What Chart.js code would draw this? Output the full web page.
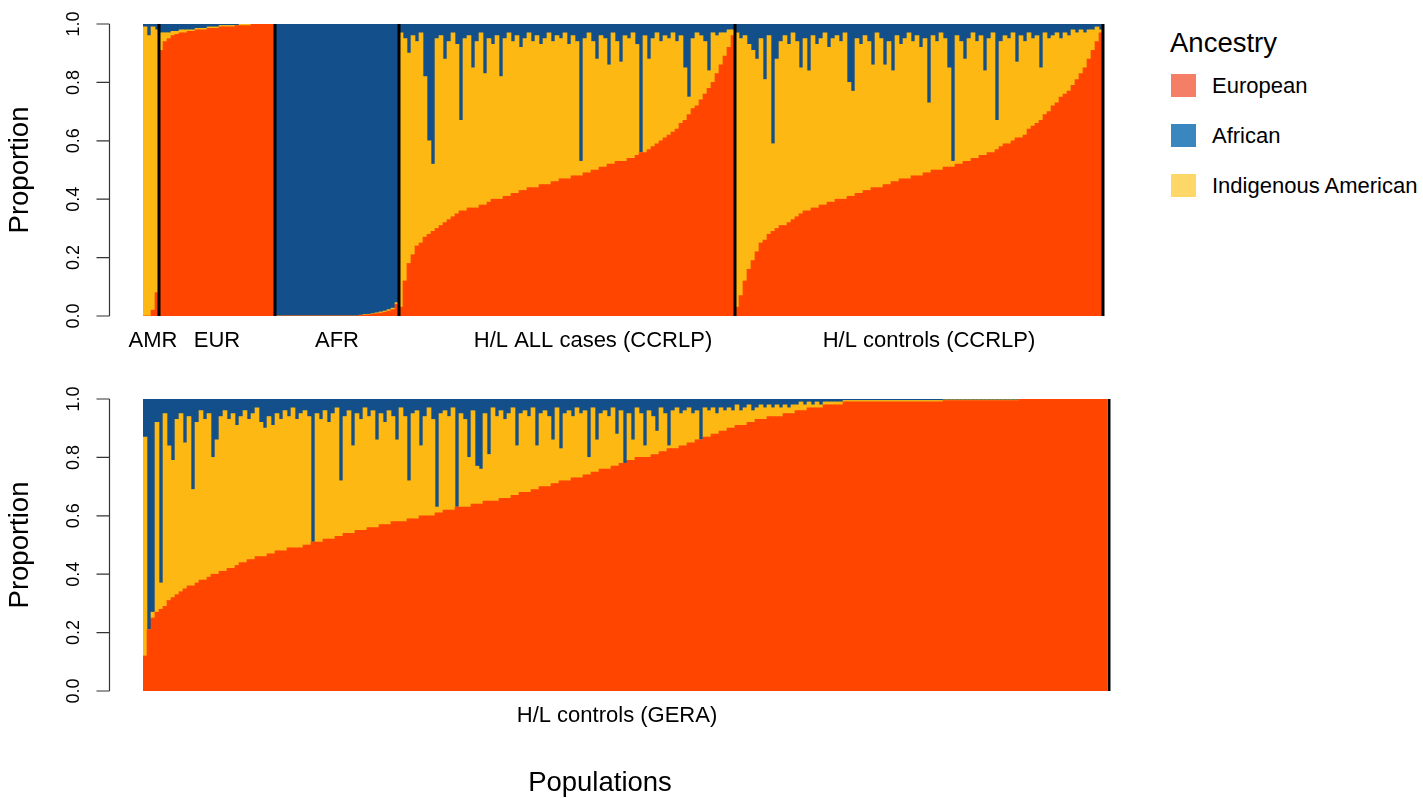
<!DOCTYPE html>
<html>
<head>
<meta charset="utf-8">
<script src="https://cdn.jsdelivr.net/npm/chart.js@4.4.1/dist/chart.umd.min.js"></script>
<style>
  body { margin: 0; background: #fff; width: 1423px; height: 798px; position: relative; overflow: hidden;
         font-family: "Liberation Sans", Arial, Helvetica, sans-serif; color: #000; }
  .panel { position: absolute; left: 0; }
  #topPanel { top: 0; }
  #bottomPanel { top: 375px; }
  #xTitle { position: absolute; left: 450px; width: 300px; top: 768px; text-align: center;
            font-size: 27.5px; line-height: 27.5px; }
  #legend .title { position: absolute; left: 1170px; top: 29px; font-size: 27.5px; line-height: 27.5px; }
  #legend .swatch { position: absolute; left: 1171px; width: 25px; height: 23px; }
  #legend .item { position: absolute; left: 1212px; font-size: 22px; line-height: 22px; white-space: nowrap; }
</style>
</head>
<body>
<div class="panel" id="topPanel"><canvas id="topChart" width="1130" height="360"></canvas></div>
<div class="panel" id="bottomPanel"><canvas id="bottomChart" width="1130" height="423"></canvas></div>
<div id="xTitle">Populations</div>
<div id="legend"><div class="title">Ancestry</div></div>

<script>
// ancestry components, stacked bottom to top: European, Indigenous American, African
const seriesNames = ['European', 'Indigenous American', 'African'];
const barColors = ['#FF4500', '#FDB813', '#134F8A'];
const legendOrder = ['European', 'African', 'Indigenous American'];
const legendColors = { 'European': '#F47F66', 'African': '#3A87BF', 'Indigenous American': '#FDD868' };

const topGroups = ['AMR', 'EUR', 'AFR', 'H/L ALL cases (CCRLP)', 'H/L controls (CCRLP)'];
const bottomGroups = ['H/L controls (GERA)'];
const yTicks = [0, 0.2, 0.4, 0.6, 0.8, 1.0];

// reference panel: AMR
const amrEuropean   = [0, 0, 0.02, 0.08];
const amrIndigenous = [0.99, 0.96, 0.97, 0.90];
const amrAfrican    = [0.01, 0.04, 0.01, 0.02];

// reference panel: EUR
const eurEuropean   = [0.91,0.94,0.95,0.96,0.965,0.97,0.97,0.975,0.975,0.98,0.98,0.98,0.985,0.985,0.985,0.99,0.99,0.99,0.99,0.995,0.995,0.995,0.995,1,1,1,1,1,1];
const eurIndigenous = [0.06,0.03,0.02,0.015,0.01,0.01,0.01,0.005,0.005,0.005,0.005,0.005,0.005,0.005,0.005,0.005,0.005,0.005,0.005,0,0.005,0.005,0.005,0,0,0,0,0,0];
const eurAfrican    = [0.03,0.03,0.03,0.025,0.025,0.02,0.02,0.02,0.02,0.015,0.015,0.015,0.01,0.01,0.01,0.005,0.005,0.005,0.005,0.005,0,0,0,0,0,0,0,0,0];

// reference panel: AFR
const afrEuropean   = [0,0,0,0,0,0,0,0,0,0,0,0,0,0,0,0,0,0,0,0,0, 0.002,0.003,0.004,0.006,0.008,0.01,0.013,0.017,0.022,0.04];
const afrIndigenous = [0,0,0,0,0,0,0,0,0,0,0,0,0,0,0,0,0,0,0,0,0, 0.001,0.002,0.002,0.002,0.003,0.004,0.004,0.005,0.005,0.006];
const afrAfrican    = [1,1,1,1,1,1,1,1,1,1,1,1,1,1,1,1,1,1,1,1,1, 0.997,0.995,0.994,0.992,0.989,0.986,0.983,0.978,0.973,0.954];

// H/L ALL cases (CCRLP)
const casesEuropean = [0.03,0.12,0.18,0.21,0.24,0.25,0.27,0.28,0.29,0.30, 0.31,0.32,0.33,0.34,0.35,0.36,0.36,0.37,0.37,0.37,
  0.38,0.38,0.39,0.40,0.40,0.40,0.41,0.41,0.42,0.42, 0.43,0.43,0.44,0.44,0.44,0.45,0.45,0.45,0.46,0.46,
  0.47,0.47,0.47,0.48,0.48,0.48,0.49,0.49,0.50,0.50, 0.51,0.51,0.52,0.52,0.53,0.53,0.53,0.54,0.54,0.55,
  0.56,0.56,0.57,0.58,0.59,0.60,0.61,0.62,0.63,0.64, 0.66,0.67,0.69,0.71,0.72,0.74,0.76,0.78,0.80,0.83,
  0.86,0.89,0.92,0.96];
const casesIndigenous = [0.94,0.83,0.72,0.75,0.70,0.72,0.55,0.32,0.23,0.65, 0.65,0.56,0.61,0.63,0.58,0.31,0.59,0.59,0.48,0.57,
  0.59,0.45,0.56,0.53,0.56,0.42,0.54,0.56,0.52,0.54, 0.49,0.52,0.53,0.50,0.52,0.48,0.50,0.52,0.48,0.50,
  0.48,0.50,0.46,0.48,0.46,0.05,0.46,0.48,0.44,0.38, 0.45,0.44,0.34,0.45,0.41,0.34,0.43,0.41,0.43,0.38,
  0.00,0.40,0.31,0.37,0.38,0.34,0.35,0.33,0.34,0.30, 0.30,0.18,0.06,0.24,0.25,0.22,0.18,0.06,0.17,0.13,
  0.11,0.08,0.06,0.02];
const casesAfrican = [0.03,0.05,0.10,0.04,0.06,0.03,0.18,0.40,0.48,0.05, 0.04,0.12,0.06,0.03,0.07,0.33,0.05,0.04,0.15,0.06,
  0.03,0.17,0.05,0.07,0.04,0.18,0.05,0.03,0.06,0.04, 0.08,0.05,0.03,0.06,0.04,0.07,0.05,0.03,0.06,0.04,
  0.05,0.03,0.07,0.04,0.06,0.47,0.05,0.03,0.06,0.12, 0.04,0.05,0.14,0.03,0.06,0.13,0.04,0.05,0.03,0.07,
  0.44,0.04,0.12,0.05,0.03,0.06,0.04,0.05,0.03,0.06, 0.04,0.15,0.25,0.05,0.03,0.04,0.06,0.16,0.03,0.04,
  0.03,0.03,0.02,0.02];

// H/L controls (CCRLP)
const controlsEuropean = [0.03,0.07,0.12,0.16,0.19,0.22,0.25,0.26,0.28,0.29, 0.30,0.31,0.31,0.32,0.33,0.34,0.35,0.36,0.36,0.37,
  0.37,0.38,0.38,0.39,0.39,0.40,0.40,0.40,0.41,0.41, 0.42,0.42,0.43,0.43,0.44,0.44,0.44,0.45,0.45,0.46,
  0.46,0.47,0.47,0.47,0.48,0.48,0.48,0.49,0.49,0.50, 0.50,0.50,0.51,0.51,0.51,0.52,0.52,0.53,0.53,0.54,
  0.54,0.55,0.55,0.56,0.56,0.57,0.58,0.59,0.59,0.60, 0.61,0.61,0.62,0.64,0.65,0.66,0.67,0.69,0.70,0.72,
  0.73,0.75,0.76,0.77,0.79,0.81,0.83,0.85,0.88,0.91, 0.94,0.97];
const controlsIndigenous = [0.94,0.88,0.84,0.77,0.72,0.66,0.70,0.55,0.68,0.30, 0.58,0.63,0.65,0.61,0.64,0.60,0.50,0.59,0.48,0.59,
  0.56,0.57,0.59,0.53,0.56,0.56,0.54,0.57,0.39,0.36, 0.53,0.51,0.53,0.51,0.42,0.53,0.51,0.41,0.49,0.38,
  0.50,0.46,0.48,0.50,0.46,0.48,0.44,0.46,0.24,0.46, 0.44,0.47,0.44,0.34,0.02,0.44,0.42,0.35,0.42,0.43,
  0.40,0.41,0.29,0.39,0.41,0.10,0.36,0.37,0.36,0.37, 0.26,0.35,0.32,0.33,0.30,0.30,0.18,0.28,0.25,0.24,
  0.24,0.20,0.21,0.19,0.19,0.16,0.15,0.12,0.10,0.07, 0.05,0.01];
const controlsAfrican = [0.03,0.05,0.04,0.07,0.09,0.12,0.05,0.19,0.04,0.41, 0.12,0.06,0.04,0.07,0.03,0.06,0.15,0.05,0.16,0.04,
  0.07,0.05,0.03,0.08,0.05,0.04,0.06,0.03,0.20,0.23, 0.05,0.07,0.04,0.06,0.14,0.03,0.05,0.14,0.06,0.16,
  0.04,0.07,0.05,0.03,0.06,0.04,0.08,0.05,0.27,0.04, 0.06,0.03,0.05,0.15,0.47,0.04,0.06,0.12,0.05,0.03,
  0.06,0.04,0.16,0.05,0.03,0.33,0.06,0.04,0.05,0.03, 0.13,0.04,0.06,0.03,0.05,0.04,0.15,0.03,0.05,0.04,
  0.03,0.05,0.03,0.04,0.02,0.03,0.02,0.03,0.02,0.02, 0.01,0.02];

// H/L controls (GERA)
const geraEuropean = [0.12,0.21,0.25,0.27,0.28,0.29,0.31,0.32,0.33,0.34, 0.35,0.36,0.36,0.37,0.38,0.38,0.39,0.40,0.40,0.41,
  0.41,0.42,0.42,0.43,0.44,0.44,0.45,0.45,0.46,0.46, 0.46,0.47,0.47,0.48,0.48,0.48,0.49,0.49,0.49,0.49,
  0.50,0.50,0.51,0.51,0.51,0.52,0.52,0.52,0.53,0.53, 0.54,0.54,0.54,0.55,0.55,0.55,0.56,0.56,0.56,0.57,
  0.57,0.57,0.58,0.58,0.58,0.58,0.59,0.59,0.59,0.60, 0.60,0.60,0.60,0.61,0.61,0.62,0.62,0.62,0.63,0.63,
  0.63,0.63,0.64,0.64,0.64,0.65,0.65,0.65,0.65,0.66, 0.66,0.66,0.67,0.67,0.68,0.68,0.68,0.69,0.69,0.70,
  0.70,0.70,0.71,0.71,0.72,0.72,0.72,0.73,0.73,0.73, 0.74,0.74,0.75,0.75,0.76,0.76,0.76,0.77,0.77,0.78,
  0.78,0.79,0.79,0.80,0.80,0.80,0.80,0.81,0.81,0.82, 0.82,0.83,0.83,0.83,0.84,0.84,0.85,0.85,0.86,0.86,
  0.87,0.87,0.88,0.88,0.89,0.89,0.90,0.90,0.91,0.91, 0.91,0.92,0.92,0.93,0.93,0.93,0.94,0.94,0.94,0.94,
  0.95,0.95,0.95,0.96,0.96,0.96,0.97,0.97,0.97,0.97, 0.98,0.98,0.98,0.98,0.98,0.99,0.99,0.99,0.99,0.99,
  0.99,0.99,0.99,0.99,0.99,0.99,0.99,0.99,0.99,0.99, 0.99,0.99,0.99,0.99,0.99,0.99,0.99,0.99,0.99,0.99,
  0.995,0.995,0.995,0.995,0.995,0.995,0.995,0.995,0.995,0.995, 0.995,0.995,0.995,0.995,0.995,0.995,0.995,0.995,0.995,
  1,1,1,1,1,1,1,1,1,1,1,1,1,1,1,1,1,1,1,1,1,1];
const geraIndigenous = [0.75,0.00,0.02,0.65,0.09,0.66,0.53,0.47,0.60,0.61, 0.50,0.58,0.33,0.55,0.58,0.55,0.56,0.40,0.46,0.53,
  0.55,0.51,0.53,0.48,0.50,0.52,0.48,0.50,0.51,0.46, 0.44,0.47,0.44,0.47,0.45,0.48,0.45,0.48,0.44,0.46,
  0.46,0.44,0.00,0.44,0.42,0.44,0.40,0.43,0.44,0.19, 0.40,0.42,0.30,0.40,0.38,0.42,0.38,0.40,0.30,0.38,
  0.35,0.39,0.36,0.28,0.39,0.36,0.13,0.36,0.37,0.24, 0.34,0.37,0.33,0.02,0.34,0.34,0.32,0.35,0.00,0.32,
  0.30,0.17,0.32,0.13,0.12,0.30,0.16,0.32,0.29,0.30, 0.27,0.29,0.30,0.17,0.27,0.28,0.26,0.28,0.15,0.25,
  0.26,0.24,0.15,0.26,0.11,0.23,0.24,0.21,0.24,0.22, 0.22,0.06,0.22,0.11,0.19,0.20,0.18,0.20,0.11,0.18,
  0.00,0.16,0.07,0.17,0.15,0.04,0.16,0.13,0.08,0.15, 0.13,0.01,0.13,0.14,0.11,0.12,0.12,0.10,0.10,0.00,
  0.10,0.09,0.09,0.07,0.08,0.07,0.07,0.06,0.07,0.05, 0.06,0.06,0.04,0.04,0.05,0.04,0.04,0.03,0.04,0.03,
  0.03,0.02,0.03,0.02,0.03,0.02,0.02,0.01,0.02,0.01, 0.01,0.01,0.01,0.01,0.01,0.005,0.005,0.005,0.005,0.005,
  0.005,0.005,0.005,0.005,0.005,0.005,0.005,0.005,0.005,0.005, 0.005,0.005,0.005,0.005,0.005,0.005,0.005,0.005,0.005,0.005,
  0.002,0.002,0.002,0.002,0.002,0.002,0.002,0.002,0.002,0.002, 0.002,0.002,0.002,0.002,0.002,0.002,0.002,0.002,0.002,
  0,0,0,0,0,0,0,0,0,0,0,0,0,0,0,0,0,0,0,0,0,0];
const geraAfrican = [0.13,0.79,0.73,0.08,0.63,0.05,0.16,0.21,0.07,0.05, 0.15,0.06,0.31,0.08,0.04,0.07,0.05,0.20,0.14,0.06,
  0.04,0.07,0.05,0.09,0.06,0.04,0.07,0.05,0.03,0.08, 0.10,0.06,0.09,0.05,0.07,0.04,0.06,0.03,0.07,0.05,
  0.04,0.06,0.49,0.05,0.07,0.04,0.08,0.05,0.03,0.28, 0.06,0.04,0.16,0.05,0.07,0.03,0.06,0.04,0.14,0.05,
  0.08,0.04,0.06,0.14,0.03,0.06,0.28,0.05,0.04,0.16, 0.06,0.03,0.07,0.37,0.05,0.04,0.06,0.03,0.37,0.05,
  0.07,0.20,0.04,0.23,0.24,0.05,0.19,0.03,0.06,0.04, 0.07,0.05,0.03,0.16,0.05,0.04,0.06,0.03,0.16,0.05,
  0.04,0.06,0.14,0.03,0.17,0.05,0.04,0.06,0.03,0.05, 0.04,0.20,0.03,0.14,0.05,0.04,0.06,0.03,0.12,0.04,
  0.22,0.05,0.14,0.03,0.05,0.16,0.04,0.06,0.11,0.03, 0.05,0.16,0.04,0.03,0.05,0.04,0.03,0.05,0.04,0.14,
  0.03,0.04,0.03,0.05,0.03,0.04,0.03,0.04,0.02,0.04, 0.03,0.02,0.04,0.03,0.02,0.03,0.02,0.03,0.02,0.03,
  0.02,0.03,0.02,0.02,0.01,0.02,0.01,0.02,0.01,0.02, 0.01,0.01,0.01,0.01,0.01,0.005,0.005,0.005,0.005,0.005,
  0.005,0.005,0.005,0.005,0.005,0.005,0.005,0.005,0.005,0.005, 0.005,0.005,0.005,0.005,0.005,0.005,0.005,0.005,0.005,0.005,
  0.003,0.003,0.003,0.003,0.003,0.003,0.003,0.003,0.003,0.003, 0.003,0.003,0.003,0.003,0.003,0.003,0.003,0.003,0.003,
  0,0,0,0,0,0,0,0,0,0,0,0,0,0,0,0,0,0,0,0,0,0];

// one category per individual, named after its group
function groupLabels(names, sizes) {
  const out = [];
  names.forEach((n, g) => { for (let k = 0; k < sizes[g]; k++) out.push(n); });
  return out;
}

const topSizes = [amrEuropean.length, eurEuropean.length, afrEuropean.length, casesEuropean.length, controlsEuropean.length];
const topLabels = groupLabels(topGroups, topSizes);
const topSeries = [
  [...amrEuropean, ...eurEuropean, ...afrEuropean, ...casesEuropean, ...controlsEuropean],
  [...amrIndigenous, ...eurIndigenous, ...afrIndigenous, ...casesIndigenous, ...controlsIndigenous],
  [...amrAfrican, ...eurAfrican, ...afrAfrican, ...casesAfrican, ...controlsAfrican]
];
const bottomLabels = groupLabels(bottomGroups, [geraEuropean.length]);
const bottomSeries = [geraEuropean, geraIndigenous, geraAfrican];

// base-graphics style y axis, set off to the left of the bars, plus black group dividers
const panelDecor = {
  id: 'panelDecor',
  afterDatasetsDraw(chart, args, opts) {
    const { ctx, chartArea } = chart;
    const xs = chart.scales.x;
    const half = (xs.getPixelForValue(1) - xs.getPixelForValue(0)) / 2;
    ctx.save();
    ctx.strokeStyle = '#000';
    ctx.lineWidth = 3;
    opts.dividers.forEach(i => {
      const x = xs.getPixelForValue(i) + half + opts.shift;
      ctx.beginPath();
      ctx.moveTo(x, chartArea.top);
      ctx.lineTo(x, chartArea.bottom);
      ctx.stroke();
    });
    ctx.restore();
  },
  afterDraw(chart, args, opts) {
    const { ctx, chartArea } = chart;
    const ys = chart.scales.y;
    const x0 = Math.round(chartArea.left - opts.gap) + 0.5;
    ctx.save();
    ctx.strokeStyle = '#333';
    ctx.lineWidth = 1.2;
    ctx.beginPath();
    ctx.moveTo(x0, ys.getPixelForValue(1));
    ctx.lineTo(x0, ys.getPixelForValue(0));
    ys.ticks.forEach(t => {
      const py = ys.getPixelForValue(t.value);
      ctx.moveTo(x0 - 13, py);
      ctx.lineTo(x0, py);
    });
    ctx.stroke();
    ctx.fillStyle = '#000';
    ctx.font = '18px "Liberation Sans", Arial, sans-serif';
    ctx.textAlign = 'center';
    ctx.textBaseline = 'middle';
    ys.ticks.forEach(t => {
      const py = ys.getPixelForValue(t.value);
      ctx.save();
      ctx.translate(x0 - 35, py);
      ctx.rotate(-Math.PI / 2);
      ctx.fillText(Number(t.value).toFixed(1), 0, 0);
      ctx.restore();
    });
    ctx.restore();
  }
};

function makePanel(canvas, labels, series, opts) {
  const labelAt = opts.labelAt;
  return new Chart(canvas, {
    type: 'bar',
    data: {
      labels: labels,
      datasets: series.map((d, k) => ({
        label: seriesNames[k],
        data: d,
        backgroundColor: barColors[k],
        borderWidth: 0,
        barPercentage: 1,
        categoryPercentage: 1
      }))
    },
    options: {
      responsive: false,
      devicePixelRatio: 1,
      animation: false,
      events: [],
      layout: { padding: { top: 24, right: opts.rightPad, left: 0, bottom: 0 } },
      plugins: {
        legend: { display: false },
        tooltip: { enabled: false },
        panelDecor: { dividers: opts.dividers, gap: 34, shift: opts.dividerShift || 0 }
      },
      scales: {
        x: {
          stacked: true,
          grid: { display: false, drawTicks: false },
          border: { display: false },
          ticks: {
            autoSkip: false, maxRotation: 0, minRotation: 0, padding: 12,
            color: '#000',
            font: { size: 22, family: '"Liberation Sans", Arial, sans-serif' },
            callback: function (value, index) { return labelAt.includes(index) ? this.getLabelForValue(value) : ''; }
          },
          afterFit: s => { s.height = opts.xHeight; }
        },
        y: {
          stacked: true,
          min: 0, max: 1,
          afterBuildTicks: s => { s.ticks = yTicks.map(v => ({ value: v })); },
          grid: { display: false, drawTicks: false },
          border: { display: false },
          ticks: { display: false },
          title: {
            display: true, text: 'Proportion', color: '#000',
            font: { size: 27.5, family: '"Liberation Sans", Arial, sans-serif' },
            padding: { top: 4, bottom: 0 }
          },
          afterFit: s => { s.width = 143; }
        }
      }
    },
    plugins: [panelDecor]
  });
}

// dividers sit after the last individual of each group
const topDividers = [];
topSizes.reduce((acc, n) => { topDividers.push(acc + n - 1); return acc + n; }, 0);

makePanel(document.getElementById('topChart'), topLabels, topSeries, {
  labelAt: [2, 18, 48, 112, 196], dividers: topDividers, rightPad: 27, xHeight: 44
});
makePanel(document.getElementById('bottomChart'), bottomLabels, bottomSeries, {
  labelAt: [118], dividers: [geraEuropean.length - 1], dividerShift: 2, rightPad: 23, xHeight: 107
});

// legend
const legend = document.getElementById('legend');
legendOrder.forEach((name, i) => {
  const sw = document.createElement('div');
  sw.className = 'swatch';
  sw.style.top = (74 + 50 * i) + 'px';
  sw.style.background = legendColors[name];
  legend.appendChild(sw);
  const it = document.createElement('div');
  it.className = 'item';
  it.style.top = (75 + 50 * i) + 'px';
  it.textContent = name;
  legend.appendChild(it);
});
</script>
</body>
</html>
